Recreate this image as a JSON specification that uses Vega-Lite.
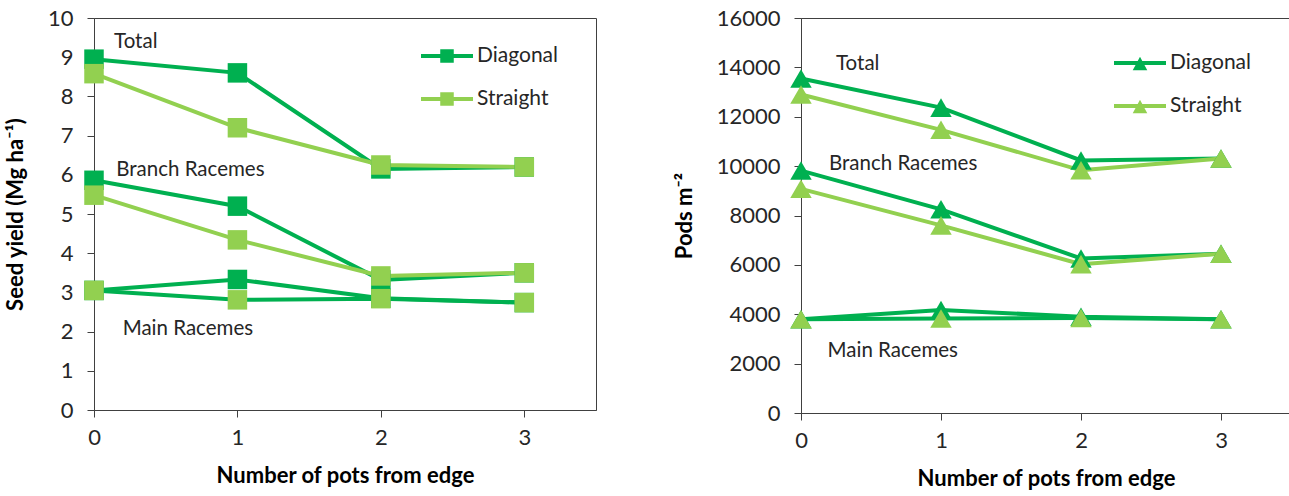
{
  "$schema": "https://vega.github.io/schema/vega-lite/v6.json",
  "background": "white",
  "padding": {"left": 3, "top": 6, "right": 0, "bottom": 0},
  "spacing": 75,
  "resolve": {"scale": {"color": "independent", "stroke": "independent", "x": "independent", "y": "independent"}, "legend": {"color": "independent"}},
  "config": {
    "font": "Lato",
    "view": {"stroke": "#404040", "strokeWidth": 1},
    "axis": {"grid": false, "domainColor": "#404040", "tickColor": "#404040", "labelColor": "#262626", "labelFont": "Lato", "labelFontSize": 22, "titleFont": "Lato", "titleFontSize": 22, "titleFontWeight": "bold", "titleColor": "#000000", "tickSize": 7, "labelOverlap": false},
    "axisX": {"labelPadding": 10, "titlePadding": 17, "labelFlush": false, "format": "d"},
    "axisY": {"labelPadding": 14, "titlePadding": 20}
  },
  "datasets": {
    "seed": [
      {"pots": 0, "method": "Diagonal", "component": "Total", "value": 8.95},
      {"pots": 1, "method": "Diagonal", "component": "Total", "value": 8.6},
      {"pots": 2, "method": "Diagonal", "component": "Total", "value": 6.15},
      {"pots": 3, "method": "Diagonal", "component": "Total", "value": 6.2},
      {"pots": 0, "method": "Diagonal", "component": "Branch Racemes", "value": 5.86},
      {"pots": 1, "method": "Diagonal", "component": "Branch Racemes", "value": 5.2},
      {"pots": 2, "method": "Diagonal", "component": "Branch Racemes", "value": 3.32},
      {"pots": 3, "method": "Diagonal", "component": "Branch Racemes", "value": 3.5},
      {"pots": 0, "method": "Diagonal", "component": "Main Racemes", "value": 3.05},
      {"pots": 1, "method": "Diagonal", "component": "Main Racemes", "value": 3.33},
      {"pots": 2, "method": "Diagonal", "component": "Main Racemes", "value": 2.85},
      {"pots": 3, "method": "Diagonal", "component": "Main Racemes", "value": 2.74},
      {"pots": 0, "method": "Straight", "component": "Total", "value": 8.58},
      {"pots": 1, "method": "Straight", "component": "Total", "value": 7.2},
      {"pots": 2, "method": "Straight", "component": "Total", "value": 6.25},
      {"pots": 3, "method": "Straight", "component": "Total", "value": 6.2},
      {"pots": 0, "method": "Straight", "component": "Branch Racemes", "value": 5.48},
      {"pots": 1, "method": "Straight", "component": "Branch Racemes", "value": 4.34},
      {"pots": 2, "method": "Straight", "component": "Branch Racemes", "value": 3.42},
      {"pots": 3, "method": "Straight", "component": "Branch Racemes", "value": 3.5},
      {"pots": 0, "method": "Straight", "component": "Main Racemes", "value": 3.05},
      {"pots": 1, "method": "Straight", "component": "Main Racemes", "value": 2.81},
      {"pots": 2, "method": "Straight", "component": "Main Racemes", "value": 2.84},
      {"pots": 3, "method": "Straight", "component": "Main Racemes", "value": 2.74}
    ],
    "pods": [
      {"pots": 0, "method": "Diagonal", "component": "Total", "value": 13550},
      {"pots": 1, "method": "Diagonal", "component": "Total", "value": 12370},
      {"pots": 2, "method": "Diagonal", "component": "Total", "value": 10230},
      {"pots": 3, "method": "Diagonal", "component": "Total", "value": 10310},
      {"pots": 0, "method": "Diagonal", "component": "Branch Racemes", "value": 9820},
      {"pots": 1, "method": "Diagonal", "component": "Branch Racemes", "value": 8250},
      {"pots": 2, "method": "Diagonal", "component": "Branch Racemes", "value": 6260},
      {"pots": 3, "method": "Diagonal", "component": "Branch Racemes", "value": 6450},
      {"pots": 0, "method": "Diagonal", "component": "Main Racemes", "value": 3800},
      {"pots": 1, "method": "Diagonal", "component": "Main Racemes", "value": 4170},
      {"pots": 2, "method": "Diagonal", "component": "Main Racemes", "value": 3900},
      {"pots": 3, "method": "Diagonal", "component": "Main Racemes", "value": 3800},
      {"pots": 0, "method": "Straight", "component": "Total", "value": 12900},
      {"pots": 1, "method": "Straight", "component": "Total", "value": 11470},
      {"pots": 2, "method": "Straight", "component": "Total", "value": 9830},
      {"pots": 3, "method": "Straight", "component": "Total", "value": 10310},
      {"pots": 0, "method": "Straight", "component": "Branch Racemes", "value": 9080},
      {"pots": 1, "method": "Straight", "component": "Branch Racemes", "value": 7600},
      {"pots": 2, "method": "Straight", "component": "Branch Racemes", "value": 6030},
      {"pots": 3, "method": "Straight", "component": "Branch Racemes", "value": 6450},
      {"pots": 0, "method": "Straight", "component": "Main Racemes", "value": 3800},
      {"pots": 1, "method": "Straight", "component": "Main Racemes", "value": 3830},
      {"pots": 2, "method": "Straight", "component": "Main Racemes", "value": 3850},
      {"pots": 3, "method": "Straight", "component": "Main Racemes", "value": 3800}
    ],
    "seedLabels": [
      {"label": "Total", "pots": 0.14, "value": 9.4},
      {"label": "Branch Racemes", "pots": 0.155, "value": 6.13},
      {"label": "Main Racemes", "pots": 0.2, "value": 2.07}
    ],
    "podsLabels": [
      {"label": "Total", "pots": 0.25, "value": 14120},
      {"label": "Branch Racemes", "pots": 0.2, "value": 10100},
      {"label": "Main Racemes", "pots": 0.19, "value": 2520}
    ]
  },
  "hconcat": [
    {
      "width": 502,
      "height": 392,
      "encoding": {
        "x": {"field": "pots", "type": "quantitative", "scale": {"domain": [0, 3.5], "nice": false}, "axis": {"values": [0, 1, 2, 3], "title": "Number of pots from edge"}},
        "y": {"field": "value", "type": "quantitative", "scale": {"domain": [0, 10], "nice": false}, "axis": {"values": [0, 1, 2, 3, 4, 5, 6, 7, 8, 9, 10], "tickCount": 11, "labelOverlap": false, "title": "Seed yield (Mg ha⁻¹)"}}
      },
      "layer": [
        {
          "data": {"name": "seed"},
          "mark": {"type": "line", "strokeWidth": 4},
          "encoding": {
            "detail": {"field": "component"},
            "stroke": {"condition": {"test": "datum.component === 'Main Racemes'", "value": "#00B050"}, "field": "method", "type": "nominal", "scale": {"domain": ["Straight", "Diagonal"], "range": ["#92D050", "#00B050"]}, "legend": null}
          }
        },
        {
          "data": {"name": "seed"},
          "mark": {"type": "point", "shape": "square", "filled": true, "size": 380, "opacity": 1},
          "encoding": {
            "color": {"field": "method", "type": "nominal", "scale": {"domain": ["Diagonal", "Straight"], "range": ["#00B050", "#92D050"]}, "legend": {"orient": "none", "legendX": 340, "legendY": 25, "title": null, "symbolType": "M-2,-0.15H2V0.15H-2Z M-0.52,-0.52H0.52V0.52H-0.52Z", "symbolSize": 676, "symbolStrokeWidth": 0, "labelFont": "Lato", "labelFontSize": 21, "labelColor": "#262626", "labelOffset": 17, "rowPadding": 20}}
          }
        },
        {
          "data": {"name": "seedLabels"},
          "mark": {"type": "text", "align": "left", "baseline": "middle", "fontSize": 20.5, "font": "Lato", "color": "#262626"},
          "encoding": {
            "text": {"field": "label"}
          }
        }
      ]
    },
    {
      "width": 490,
      "height": 395,
      "encoding": {
        "x": {"field": "pots", "type": "quantitative", "scale": {"domain": [0, 3.5], "nice": false}, "axis": {"values": [0, 1, 2, 3], "title": "Number of pots from edge"}},
        "y": {"field": "value", "type": "quantitative", "scale": {"domain": [0, 16000], "nice": false}, "axis": {"values": [0, 2000, 4000, 6000, 8000, 10000, 12000, 14000, 16000], "format": "d", "labelOverlap": false, "title": "Pods m⁻²"}}
      },
      "layer": [
        {
          "data": {"name": "pods"},
          "mark": {"type": "line", "strokeWidth": 4},
          "encoding": {
            "detail": {"field": "component"},
            "stroke": {"condition": {"test": "datum.component === 'Main Racemes'", "value": "#00B050"}, "field": "method", "type": "nominal", "scale": {"domain": ["Straight", "Diagonal"], "range": ["#92D050", "#00B050"]}, "legend": null}
          }
        },
        {
          "data": {"name": "pods"},
          "mark": {"type": "point", "shape": "triangle-up", "filled": true, "size": 460, "opacity": 1},
          "encoding": {
            "color": {"field": "method", "type": "nominal", "scale": {"domain": ["Diagonal", "Straight"], "range": ["#00B050", "#92D050"]}, "legend": {"orient": "none", "legendX": 326, "legendY": 32, "title": null, "symbolType": "M-2,-0.15H2V0.15H-2Z M0,-0.48L0.56,0.55H-0.56Z", "symbolSize": 676, "symbolStrokeWidth": 0, "labelFont": "Lato", "labelFontSize": 21, "labelColor": "#262626", "labelOffset": 17, "rowPadding": 20}}
          }
        },
        {
          "data": {"name": "podsLabels"},
          "mark": {"type": "text", "align": "left", "baseline": "middle", "fontSize": 20.5, "font": "Lato", "color": "#262626"},
          "encoding": {
            "text": {"field": "label"}
          }
        }
      ]
    }
  ]
}
